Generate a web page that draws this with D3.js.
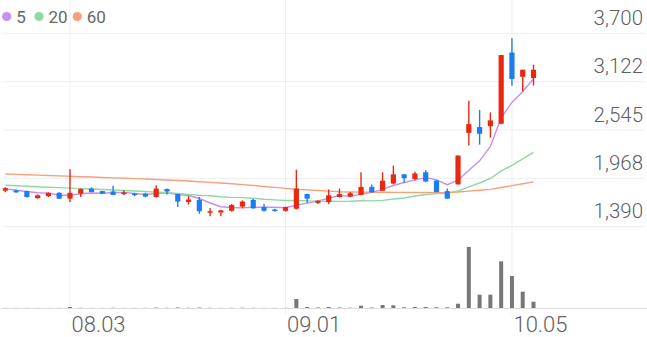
<!DOCTYPE html>
<meta charset="utf-8">
<style>
    body { margin: 0; background: #fff; }
    text { font-family: Roboto, "Noto Sans", sans-serif; fill: #666; }
    .axis-label { font-weight: 300; fill: #5f5f5f; }
</style>
<script src="https://d3js.org/d3.v7.min.js"></script>
<svg id="chart" width="647" height="337"></svg>
<script>
    // trading days shown
    var dates = ["2020-07-24","2020-07-27","2020-07-28","2020-07-29","2020-07-30","2020-07-31",
        "2020-08-03","2020-08-04","2020-08-05","2020-08-06","2020-08-07","2020-08-10","2020-08-11",
        "2020-08-12","2020-08-13","2020-08-14","2020-08-18","2020-08-19","2020-08-20","2020-08-21",
        "2020-08-24","2020-08-25","2020-08-26","2020-08-27","2020-08-28","2020-08-31","2020-09-01",
        "2020-09-02","2020-09-03","2020-09-04","2020-09-07","2020-09-08","2020-09-09","2020-09-10",
        "2020-09-11","2020-09-14","2020-09-15","2020-09-16","2020-09-17","2020-09-18","2020-09-21",
        "2020-09-22","2020-09-23","2020-09-24","2020-09-25","2020-09-28","2020-09-29","2020-10-05",
        "2020-10-06","2020-10-07"];

    var open  = [1820,1825,1815,1730,1755,1795,1725,1785,1845,1815,1810,1780,1785,1785,1745,1840,1780,1685,1710,1560,
                 1560,1580,1630,1710,1625,1595,1580,1605,1780,1675,1685,1745,1750,1770,1865,1820,1905,2015,1960,2040,
                 1940,1815,1895,2510,2580,2590,2620,3470,3180,3165];
    var high  = [1860,1835,1820,1775,1800,1800,2075,1845,1860,1820,1880,1825,1795,1795,1885,1845,1785,1755,1745,1610,
                 1590,1660,1705,1720,1660,1605,1630,2070,1785,1705,1835,1845,1805,2040,1895,2040,2120,2020,2045,2065,
                 1950,1845,2240,2895,2785,2755,3440,3640,3265,3325];
    var low   = [1800,1795,1735,1725,1745,1720,1685,1745,1800,1780,1765,1765,1755,1740,1740,1775,1625,1655,1545,1515,
                 1515,1570,1610,1605,1570,1570,1570,1595,1675,1660,1660,1740,1745,1765,1795,1820,1895,1915,1945,1920,
                 1800,1725,1895,2360,2370,2455,2615,3075,3005,3075];
    var close = [1850,1800,1745,1765,1795,1725,1795,1840,1805,1785,1770,1800,1770,1750,1845,1810,1690,1715,1575,1575,
                 1585,1650,1690,1610,1580,1580,1625,1845,1725,1700,1765,1780,1790,1865,1800,1940,2015,1970,2025,1930,
                 1805,1725,2240,2615,2500,2660,3440,3155,3265,3265];
    var volume = [15,10,12,10,8,14,110,20,15,10,25,10,12,15,40,20,50,25,45,20,
                  15,20,30,20,10,15,20,900,100,50,100,50,30,230,50,300,270,70,100,100,
                  70,70,430,6100,1330,1330,4670,3200,1630,630];

    // moving averages
    var ma5  = [1845,1825,1810,1795,1791,1766,1765,1784,1792,1790,1799,1800,1786,1775,1787,1795,1773,1762,1727,1673,
                1628,1620,1615,1622,1623,1622,1617,1648,1671,1695,1732,1763,1752,1780,1800,1835,1882,1918,1950,1976,
                1949,1891,1945,2063,2177,2348,2691,2874,3004,3157];
    var ma20 = [1885,1880,1874,1868,1862,1857,1851,1845,1840,1834,1828,1822,1816,1810,1803,1795,1786,1776,1766,1760,
                1747,1740,1737,1729,1718,1711,1703,1703,1699,1695,1694,1693,1694,1700,1698,1704,1721,1733,1756,1774,
                1785,1788,1816,1866,1912,1966,2057,2122,2199,2278];
    var ma60 = [2020,2015,2011,2006,2001,1997,1992,1987,1983,1978,1973,1969,1964,1959,1954,1948,1942,1935,1927,1920,
                1912,1903,1893,1882,1871,1860,1848,1838,1830,1822,1815,1808,1805,1803,1802,1801,1800,1800,1799,1798,
                1797,1797,1805,1815,1825,1836,1858,1880,1903,1926];

    var maNames  = ["5", "20", "60"];
    var maColors = ["#c98ef0", "#8fd9a2", "#f7a07a"];

    var priceTicks  = [3700, 3122.5, 2545, 1967.5, 1390];
    var priceLabels = ["3,700", "3,122", "2,545", "1,968", "1,390"];
    var dateTicks   = ["2020-08-03", "2020-09-01", "2020-10-05"];
    var dateLabels  = ["08.03", "09.01", "10.05"];

    var svg = d3.select("#chart"),
        width = +svg.attr("width"),
        height = +svg.attr("height");

    var upColor = "#e8290f", downColor = "#1a7ef0";

    var x = d3.scalePoint().domain(dates).range([5.3, 533.5]);
    var y = d3.scaleLinear().domain([1390, 3700]).range([226.7, 33.3]);
    var yVol = d3.scaleLinear().domain([0, d3.max(volume)]).range([308, 247]);

    // grid
    svg.append("g").selectAll("line")
        .data(priceTicks)
        .enter().append("line")
        .attr("x1", 3).attr("x2", width - 2)
        .attr("y1", function(d) { return y(d); })
        .attr("y2", function(d) { return y(d); })
        .style("stroke", "#eeeeee");

    svg.append("g").selectAll("line")
        .data(dateTicks)
        .enter().append("line")
        .attr("x1", function(d) { return x(d); })
        .attr("x2", function(d) { return x(d); })
        .attr("y1", 0).attr("y2", 314)
        .style("stroke", "#eeeeee");

    // baseline
    svg.append("line")
        .attr("x1", 2).attr("x2", width)
        .attr("y1", 308.5).attr("y2", 308.5)
        .style("stroke", "#dddddd");

    // volume
    svg.append("g").selectAll("rect")
        .data(volume)
        .enter().append("rect")
        .attr("x", function(d, i) { return x(dates[i]) - 2; })
        .attr("width", 4)
        .attr("y", function(d) { return yVol(d); })
        .attr("height", function(d) { return 308 - yVol(d); })
        .style("fill", "#777");

    // moving average lines
    [ma5, ma20, ma60].forEach(function(series, k) {
        var line = d3.line()
            .x(function(d, i) { return x(dates[i]); })
            .y(function(d) { return y(d); });
        svg.append("path")
            .datum(series)
            .attr("d", line)
            .style("fill", "none")
            .style("stroke", maColors[k])
            .style("stroke-width", 1.4);
    });

    // candles
    var candle = svg.append("g").selectAll("g")
        .data(dates)
        .enter().append("g");

    candle.append("line")
        .attr("x1", function(d) { return x(d); })
        .attr("x2", function(d) { return x(d); })
        .attr("y1", function(d, i) { return y(high[i]); })
        .attr("y2", function(d, i) { return y(low[i]); })
        .style("stroke", function(d, i) { return close[i] >= open[i] ? upColor : downColor; })
        .style("stroke-width", 1.4);

    candle.append("rect")
        .attr("x", function(d) { return x(d) - 2.6; })
        .attr("width", 5.2)
        .attr("y", function(d, i) { return y(Math.max(open[i], close[i])); })
        .attr("height", function(d, i) { return Math.max(1.5, Math.abs(y(open[i]) - y(close[i]))); })
        .style("fill", function(d, i) { return close[i] >= open[i] ? upColor : downColor; });

    // price labels
    svg.append("g").selectAll("text")
        .data(priceTicks)
        .enter().append("text")
        .attr("class", "axis-label")
        .attr("x", 643)
        .attr("y", function(d) { return y(d) - 8.3; })
        .attr("text-anchor", "end")
        .style("font-size", "20.5px")
        .text(function(d, i) { return priceLabels[i]; });

    // date labels
    svg.append("g").selectAll("text")
        .data(dateTicks)
        .enter().append("text")
        .attr("class", "axis-label")
        .attr("x", function(d) { return x(d) + 1.5; })
        .attr("y", 332.3)
        .style("font-size", "22px")
        .text(function(d, i) { return dateLabels[i]; });

    // legend
    var legendX = [6.7, 39, 77.3];
    var legend = svg.append("g").selectAll("g")
        .data(maNames)
        .enter().append("g");
    legend.append("circle")
        .attr("cx", function(d, i) { return legendX[i]; })
        .attr("cy", 16.5)
        .attr("r", 4.6)
        .style("fill", function(d, i) { return maColors[i]; });
    legend.append("text")
        .attr("x", function(d, i) { return legendX[i] + 9.5; })
        .attr("y", 22.7)
        .style("font-size", "17px")
        .text(function(d) { return d; });
</script>
